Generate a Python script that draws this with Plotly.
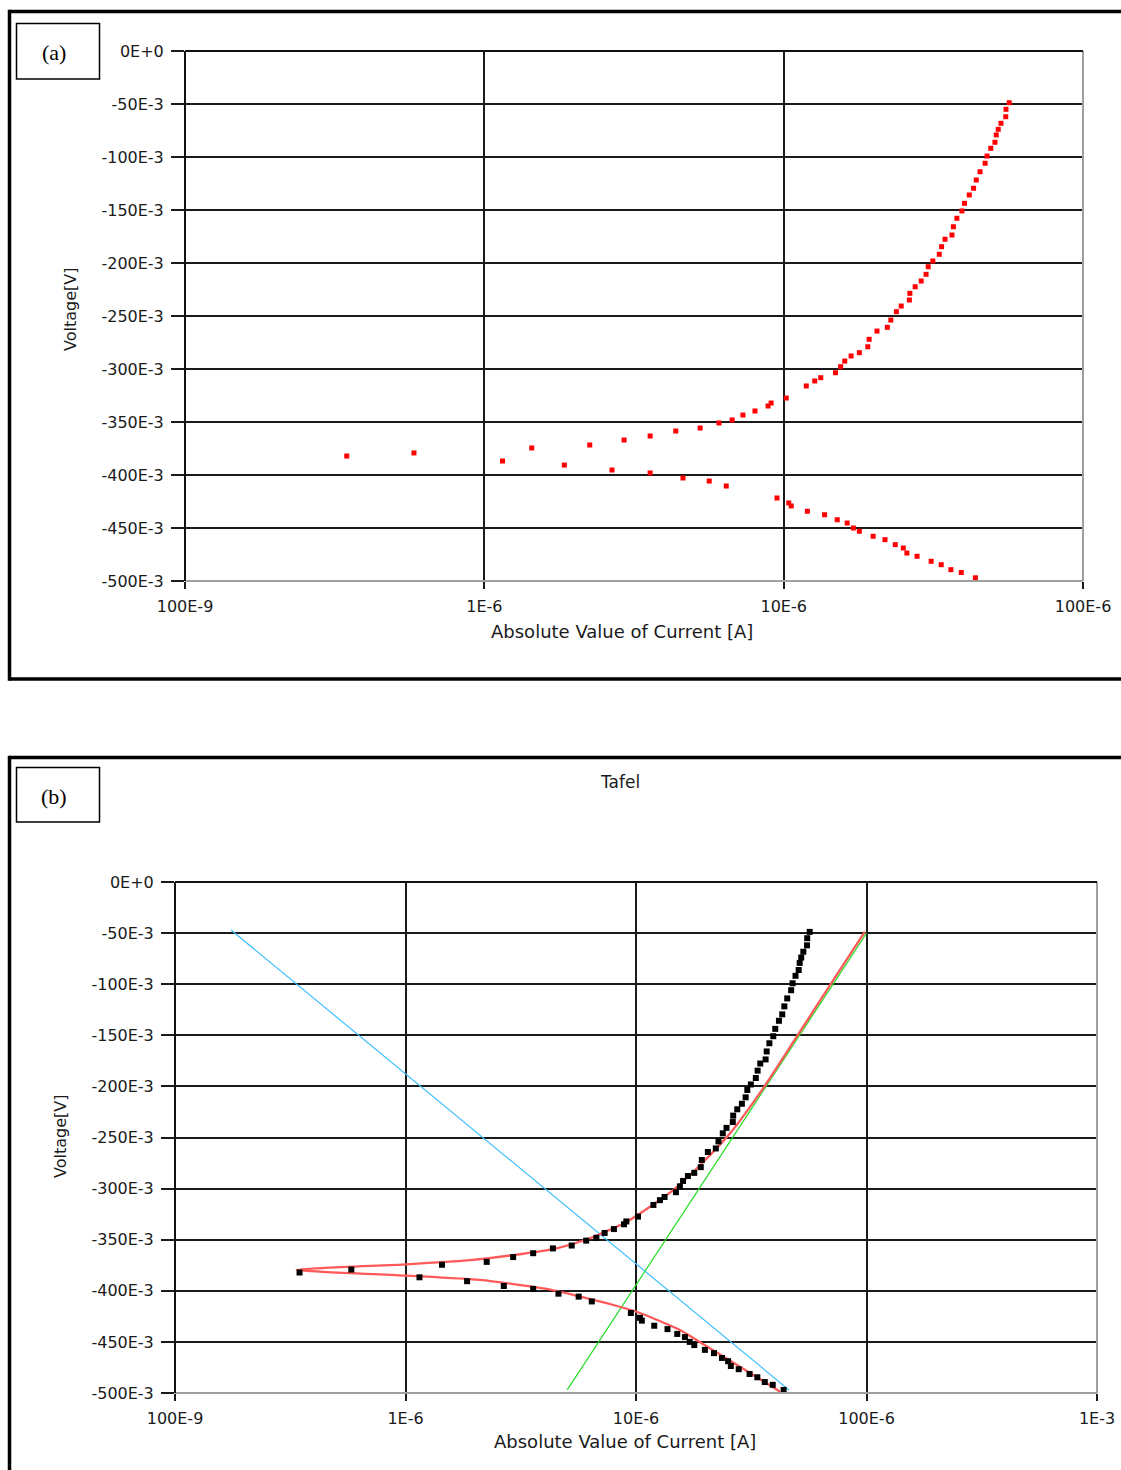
import plotly.graph_objects as go

# ---------------- data ----------------
# measured polarization data: |I| (A) and potential (V)
cath_I = [4.37e-5, 3.92e-5, 3.62e-5, 3.36e-5, 3.11e-5, 2.79e-5, 2.58e-5, 2.51e-5, 2.36e-5,
          2.18e-5, 1.99e-5, 1.79e-5, 1.71e-5, 1.63e-5, 1.51e-5, 1.37e-5, 1.20e-5, 1.06e-5,
          1.04e-5, 9.5e-6, 6.43e-6, 5.64e-6, 4.61e-6, 3.58e-6, 2.67e-6, 1.85e-6, 1.15e-6,
          3.47e-7, 5.82e-7]
cath_V = [-0.497, -0.492, -0.4893, -0.4846, -0.4814, -0.4767, -0.4736, -0.4689, -0.4657,
          -0.461, -0.4578, -0.4531, -0.450, -0.4453, -0.4422, -0.4375, -0.4342, -0.4292,
          -0.4264, -0.4217, -0.4104, -0.4057, -0.4028, -0.3981, -0.3953, -0.3906, -0.3868,
          -0.3821, -0.3792]
anod_I = [1.44e-6, 2.25e-6, 2.93e-6, 3.58e-6, 4.36e-6, 5.26e-6, 6.08e-6, 6.73e-6, 7.31e-6,
          8.02e-6, 8.87e-6, 9.08e-6, 1.02e-5, 1.19e-5, 1.27e-5, 1.33e-5, 1.49e-5, 1.55e-5,
          1.60e-5, 1.68e-5, 1.79e-5, 1.91e-5, 1.93e-5, 2.05e-5, 2.22e-5, 2.28e-5, 2.38e-5,
          2.47e-5, 2.63e-5, 2.64e-5, 2.75e-5, 2.88e-5, 2.99e-5, 3.04e-5, 3.15e-5, 3.31e-5,
          3.37e-5, 3.46e-5, 3.65e-5, 3.69e-5, 3.79e-5, 3.94e-5, 4.02e-5, 4.17e-5, 4.31e-5,
          4.40e-5, 4.53e-5, 4.71e-5, 4.78e-5, 4.92e-5, 5.08e-5, 5.13e-5, 5.21e-5, 5.32e-5,
          5.52e-5, 5.53e-5, 5.67e-5]
anod_V = [-0.3745, -0.3717, -0.367, -0.3632, -0.3585, -0.3557, -0.3509, -0.3481, -0.3434,
          -0.3396, -0.3349, -0.3321, -0.3274, -0.316, -0.3113, -0.3082, -0.3035, -0.2978,
          -0.2925, -0.2877, -0.2846, -0.279, -0.272, -0.2642, -0.2607, -0.2538, -0.2459,
          -0.2406, -0.2349, -0.2286, -0.2224, -0.217, -0.2107, -0.2035, -0.1981, -0.1918,
          -0.1846, -0.1776, -0.1736, -0.1658, -0.1578, -0.1509, -0.1437, -0.1358, -0.1295,
          -0.1217, -0.1139, -0.1059, -0.0991, -0.0918, -0.0861, -0.0792, -0.0739, -0.0682,
          -0.062, -0.055, -0.0488]
meas_I = cath_I + anod_I
meas_V = cath_V + anod_V

# Tafel fit (red)
fit_I = [9.84e-5, 7.06e-5, 4.98e-5, 3.56e-5, 2.56e-5, 1.90e-5, 1.45e-5, 1.15e-5, 9.12e-6,
         6.31e-6, 4.53e-6, 2.94e-6, 1.85e-6, 1.01e-6, 3.37e-7, 1.01e-6, 2.10e-6, 4.10e-6,
         7.98e-6, 1.04e-5, 1.55e-5, 1.83e-5, 4.22e-5]
fit_V = [-0.0486, -0.0985, -0.1514, -0.2019, -0.2459, -0.2769, -0.3014, -0.3177, -0.3324,
         -0.3486, -0.3584, -0.365, -0.3703, -0.3741, -0.3796, -0.3852, -0.3894, -0.3982,
         -0.4139, -0.4217, -0.4384, -0.4481, -0.4987]
# cathodic Tafel line (blue) and anodic Tafel line (green)
cath_line_I = [1.75e-7, 1.0e-6, 1.0e-5, 4.61e-5]
cath_line_V = [-0.047, -0.188, -0.374, -0.497]
anod_line_I = [5.03e-6, 1.0e-5, 1.0e-4]
anod_line_V = [-0.497, -0.394, -0.050]

# ticks
y_tick_vals = [0, -0.05, -0.1, -0.15, -0.2, -0.25, -0.3, -0.35, -0.4, -0.45, -0.5]
y_tick_text = ["0E+0", "-50E-3", "-100E-3", "-150E-3", "-200E-3", "-250E-3", "-300E-3",
               "-350E-3", "-400E-3", "-450E-3", "-500E-3"]
xa_tick_vals = [1e-7, 1e-6, 1e-5, 1e-4]
xa_tick_text = ["100E-9", "1E-6", "10E-6", "100E-6"]
xb_tick_vals = [1e-7, 1e-6, 1e-5, 1e-4, 1e-3]
xb_tick_text = ["100E-9", "1E-6", "10E-6", "100E-6", "1E-3"]

# ---------------- layout helpers ----------------
W, H = 1121, 1470
def px(x):
    return x / W
def py(y):
    return 1 - y / H

FONT = "DejaVu Sans"
TICKFONT = dict(family=FONT, size=16, color="#1a1a1a")

fig = go.Figure()

# panel (a)
fig.add_trace(go.Scatter(x=meas_I, y=meas_V, mode="markers", xaxis="x", yaxis="y",
                         marker=dict(symbol="square", size=5, color="#ff0000", line=dict(width=0)),
                         showlegend=False))
# panel (b)
fig.add_trace(go.Scatter(x=cath_line_I, y=cath_line_V, mode="lines", xaxis="x2", yaxis="y2",
                         line=dict(color="#3fbfff", width=1.2), showlegend=False))
fig.add_trace(go.Scatter(x=anod_line_I, y=anod_line_V, mode="lines", xaxis="x2", yaxis="y2",
                         line=dict(color="#22dd22", width=1.2), showlegend=False))
fig.add_trace(go.Scatter(x=fit_I, y=fit_V, mode="lines", xaxis="x2", yaxis="y2",
                         line=dict(color="#ff5a5a", width=2.3, shape="spline", smoothing=0.6),
                         showlegend=False))
fig.add_trace(go.Scatter(x=meas_I, y=meas_V, mode="markers", xaxis="x2", yaxis="y2",
                         marker=dict(symbol="square", size=6, color="#000000", line=dict(width=0)),
                         showlegend=False))

axis_common = dict(showgrid=True, gridcolor="#1a1a1a", gridwidth=2, zeroline=False,
                   showline=False, ticks="outside", tickcolor="#1a1a1a", tickwidth=1.5,
                   tickfont=TICKFONT, automargin=False)

fig.update_layout(
    width=W, height=H,
    margin=dict(l=0, r=0, t=0, b=0, pad=0, autoexpand=False),
    paper_bgcolor="white", plot_bgcolor="white",
    xaxis=dict(type="log", range=[-7, -4], domain=[px(185), px(1083)], anchor="y",
               tickvals=xa_tick_vals, ticktext=xa_tick_text, ticklen=7,
               ticklabelstandoff=4, **axis_common),
    yaxis=dict(range=[-0.5, 0], domain=[py(581), py(51)], anchor="x",
               tickvals=y_tick_vals, ticktext=y_tick_text, ticklen=13,
               ticklabelstandoff=4, **axis_common),
    xaxis2=dict(type="log", range=[-7, -3], domain=[px(175), px(1097)], anchor="y2",
                tickvals=xb_tick_vals, ticktext=xb_tick_text, ticklen=7,
                ticklabelstandoff=4, **axis_common),
    yaxis2=dict(range=[-0.5, 0], domain=[py(1393), py(882)], anchor="x2",
                tickvals=y_tick_vals, ticktext=y_tick_text, ticklen=13,
                ticklabelstandoff=4, **axis_common),
)

shapes = []
# plot-area edges: left/top black, right/bottom gray
for xr, yr in (("x domain", "y domain"), ("x2 domain", "y2 domain")):
    shapes.append(dict(type="line", xref=xr, yref=yr, x0=0, x1=1, y0=0, y1=0,
                       line=dict(color="#a0a0a0", width=2), layer="above"))
    shapes.append(dict(type="line", xref=xr, yref=yr, x0=1, x1=1, y0=0, y1=1,
                       line=dict(color="#a0a0a0", width=2), layer="above"))
    shapes.append(dict(type="line", xref=xr, yref=yr, x0=0, x1=0, y0=0, y1=1,
                       line=dict(color="#111111", width=2), layer="above"))
    shapes.append(dict(type="line", xref=xr, yref=yr, x0=0, x1=1, y0=1, y1=1,
                       line=dict(color="#111111", width=2), layer="above"))

def frame_line(x0, y0, x1, y1, w=3.5):
    shapes.append(dict(type="line", xref="paper", yref="paper", x0=px(x0), x1=px(x1),
                       y0=py(y0), y1=py(y1), line=dict(color="#000000", width=w)))

# outer panel frames (cut by the image edge on the right / bottom)
frame_line(9.5, 11.5, 1121, 11.5)
frame_line(9.5, 679, 1121, 679)
frame_line(9.5, 9.8, 9.5, 680.7)
frame_line(9.5, 757.5, 1121, 757.5)
frame_line(9.5, 755.8, 9.5, 1470)
# label boxes
shapes.append(dict(type="rect", xref="paper", yref="paper", x0=px(16.5), x1=px(99.5),
                   y0=py(79), y1=py(23.5), line=dict(color="#000000", width=1.5)))
shapes.append(dict(type="rect", xref="paper", yref="paper", x0=px(16.5), x1=px(99.5),
                   y0=py(822), y1=py(767.5), line=dict(color="#000000", width=1.5)))
fig.update_layout(shapes=shapes)

ann = []
def text(x, y, s, size, family=FONT, angle=0, color="#1a1a1a"):
    ann.append(dict(x=px(x), y=py(y), xref="paper", yref="paper", text=s, showarrow=False,
                    font=dict(family=family, size=size, color=color), textangle=angle,
                    xanchor="center", yanchor="middle"))

text(54, 52, "(a)", 22, family="Liberation Serif", color="#000000")
text(54, 796, "(b)", 22, family="Liberation Serif", color="#000000")
text(70, 310, "Voltage[V]", 16, angle=-90)
text(622, 631, "Absolute Value of Current [A]", 18)
text(60, 1137, "Voltage[V]", 16, angle=-90)
text(625, 1441, "Absolute Value of Current [A]", 18)
text(620, 782, "Tafel", 17)
fig.update_layout(annotations=ann)

fig.write_html("out.html")
